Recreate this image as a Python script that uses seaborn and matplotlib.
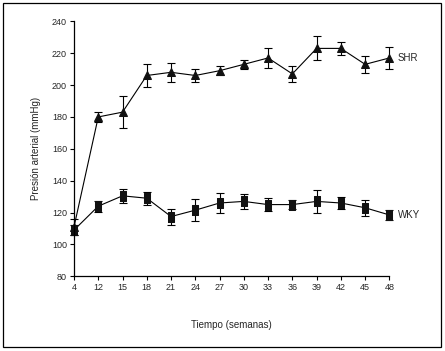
import matplotlib
matplotlib.use("Agg")
import matplotlib.pyplot as plt
import seaborn as sns
import pandas as pd
import numpy as np
from matplotlib.patches import Rectangle

weeks = [4, 12, 15, 18, 21, 24, 27, 30, 33, 36, 39, 42, 45, 48]
shr_mean = [111, 180, 183, 206, 208, 206, 209, 213, 217, 207, 223, 223, 213, 217]
shr_err = [5, 3, 10, 7, 6, 4, 3, 3, 6.5, 5, 7.5, 4, 5.5, 7]
wky_mean = [109, 124, 130.5, 129, 117.5, 121.5, 126, 127, 125, 125, 127, 126, 123, 118.5]
wky_err = [3, 3.5, 4.5, 4, 5, 7, 6, 4.5, 4, 3, 7, 4, 5, 3]
series_labels = ["SHR", "WKY"]

sns.set_theme(style="white")
plt.rcParams['font.family'] = ['Liberation Sans', 'DejaVu Sans']

pos = list(range(len(weeks)))
df = pd.DataFrame({
    "pos": pos * 2,
    "value": shr_mean + wky_mean,
    "err": shr_err + wky_err,
    "serie": [series_labels[0]] * len(weeks) + [series_labels[1]] * len(weeks),
})

fig = plt.figure(figsize=(4.45, 3.51), dpi=100)
ax = fig.add_axes([0.1663, 0.2128, 0.875 - 0.1663, 0.9393 - 0.2128])

rect_marker = [(-0.55, -1), (0.55, -1), (0.55, 1), (-0.55, 1), (-0.55, -1)]
markers = {"SHR": "^", "WKY": rect_marker}
sizes = {"SHR": 5.8, "WKY": 7}

for name in series_labels:
    sub = df[df["serie"] == name]
    ax.errorbar(sub["pos"], sub["value"], yerr=sub["err"], fmt="none",
                ecolor="black", elinewidth=0.8, capsize=3, capthick=0.8, clip_on=False)
    sns.lineplot(data=sub, x="pos", y="value", ax=ax, color="black", lw=0.8,
                 marker=markers[name], markersize=sizes[name], markeredgecolor="#111111",
                 markerfacecolor="#111111", errorbar=None, legend=False, clip_on=False)

ax.text(pos[-1] + 0.35, shr_mean[-1], series_labels[0], fontsize=7, va="center", ha="left")
ax.text(pos[-1] + 0.35, wky_mean[-1], series_labels[1], fontsize=7, va="center", ha="left")

ax.set_xlim(0, len(weeks) - 1)
ax.set_ylim(80, 240)
ax.set_xticks(pos)
ax.set_xticklabels([str(w) for w in weeks])
ax.set_yticks(range(80, 241, 20))
ax.tick_params(axis="both", labelsize=6.5, length=3, width=0.8, color="black",
               direction="out", pad=2, left=True, bottom=True)
for s in ["top", "right"]:
    ax.spines[s].set_visible(False)
for s in ["left", "bottom"]:
    ax.spines[s].set_color("black")
    ax.spines[s].set_linewidth(0.9)

ax.set_xlabel("Tiempo (semanas)", fontsize=7, labelpad=20)
ax.set_ylabel("Presión arterial (mmHg)", fontsize=7, labelpad=8)
ax.set_facecolor("white")

fig.patches.append(Rectangle((3 / 445, 1 - 347 / 351), 438 / 445, 344 / 351,
                             transform=fig.transFigure, fill=False,
                             edgecolor="black", linewidth=0.9))

fig.savefig("out.png", dpi=100, facecolor="white")
